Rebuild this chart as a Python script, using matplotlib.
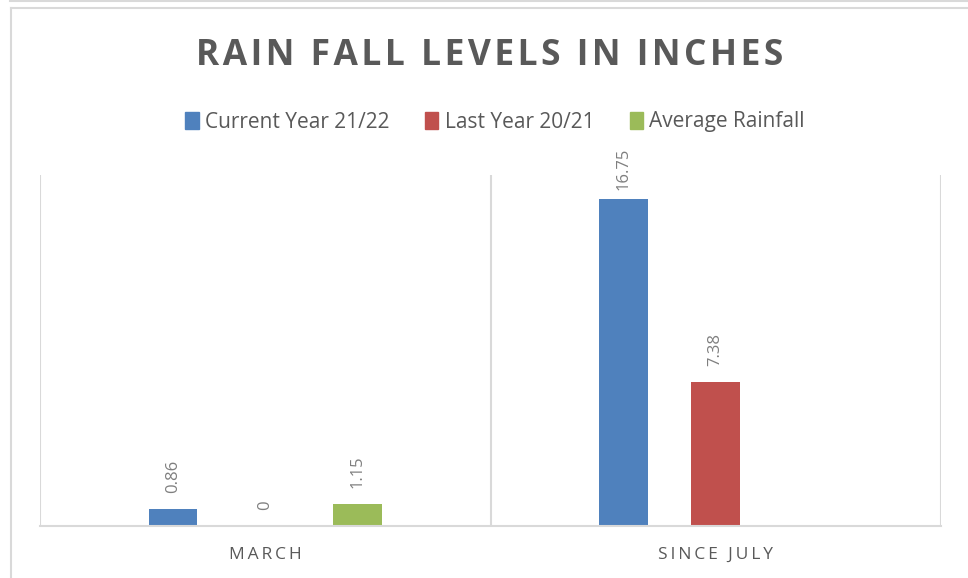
import matplotlib.pyplot as plt
from matplotlib.lines import Line2D
from matplotlib.patches import Patch
import numpy as np

# data
categories = ['MARCH', 'SINCE JULY']
series_names = ['Current Year 21/22', 'Last Year 20/21', 'Average Rainfall']
current_year = [0.86, 16.75]
last_year = [0, 7.38]
average_rain = [1.15, None]
colors = ['#4f81bd', '#c0504d', '#9bbb59']

text_grey = '#595959'
label_grey = '#7f7f7f'
line_grey = '#d9d9d9'

plt.rcParams['font.family'] = ['Open Sans', 'DejaVu Sans']

fig = plt.figure(figsize=(9.68, 5.78), dpi=100)
ax = fig.add_axes([40 / 968, 1 - 526 / 578, 901 / 968, 351 / 578])

x = np.arange(len(categories))
width = 0.108
offsets = [-0.205, 0, 0.205]
all_series = [current_year, last_year, average_rain]
top_val = max(v for s in all_series for v in s if v is not None)

for vals, off, col in zip(all_series, offsets, colors):
    for xi, v in zip(x, vals):
        if v is None:
            continue
        ax.bar(xi + off, v, width=width, color=col)
        # labels near the top of the plot get squeezed down, like Excel does
        pad = 6.5 if v == top_val else 11.5
        ax.annotate(f'{v:g}', (xi + off, v), xytext=(0, pad), textcoords='offset points',
                    rotation=90, ha='center', va='bottom', fontsize=12, color=label_grey)

ax.set_xlim(-0.5, 1.5)
ax.set_ylim(0, 18)
ax.set_yticks([])
ax.set_xticks(x)
ax.set_xticklabels(['\u2009'.join(c) for c in categories], fontsize=12.5, color=text_grey)
ax.tick_params(axis='x', length=0, pad=15)
for s in ['top', 'right', 'left']:
    ax.spines[s].set_visible(False)
ax.spines['bottom'].set_color(line_grey)
ax.spines['bottom'].set_linewidth(1.5)
for xv in [-0.5, 0.5, 1.5]:
    ax.axvline(xv, color=line_grey, lw=1.5, zorder=0)

fig.text(490 / 968, 1 - 56 / 578, '\u200a'.join('RAIN FALL LEVELS IN INCHES'),
         ha='center', va='center', fontsize=25.5, fontweight='bold', color=text_grey)

handles = [Patch(color=c) for c in colors]
fig.legend(handles, series_names, loc='center', bbox_to_anchor=(495 / 968, 1 - 122 / 578),
           ncol=3, frameon=False, fontsize=15, labelcolor=text_grey,
           handlelength=0.65, handleheight=0.85, handletextpad=0.3, columnspacing=1.7)

# outer chart frame
fig.add_artist(Line2D([10 / 968, 1], [1 - 1 / 578] * 2, color=line_grey, lw=1.5))
fig.add_artist(Line2D([10.5 / 968, 1], [1 - 8 / 578] * 2, color=line_grey, lw=1.5))
fig.add_artist(Line2D([10.5 / 968] * 2, [0, 1 - 8 / 578], color=line_grey, lw=1.5))

fig.savefig('out.png', dpi=100)
